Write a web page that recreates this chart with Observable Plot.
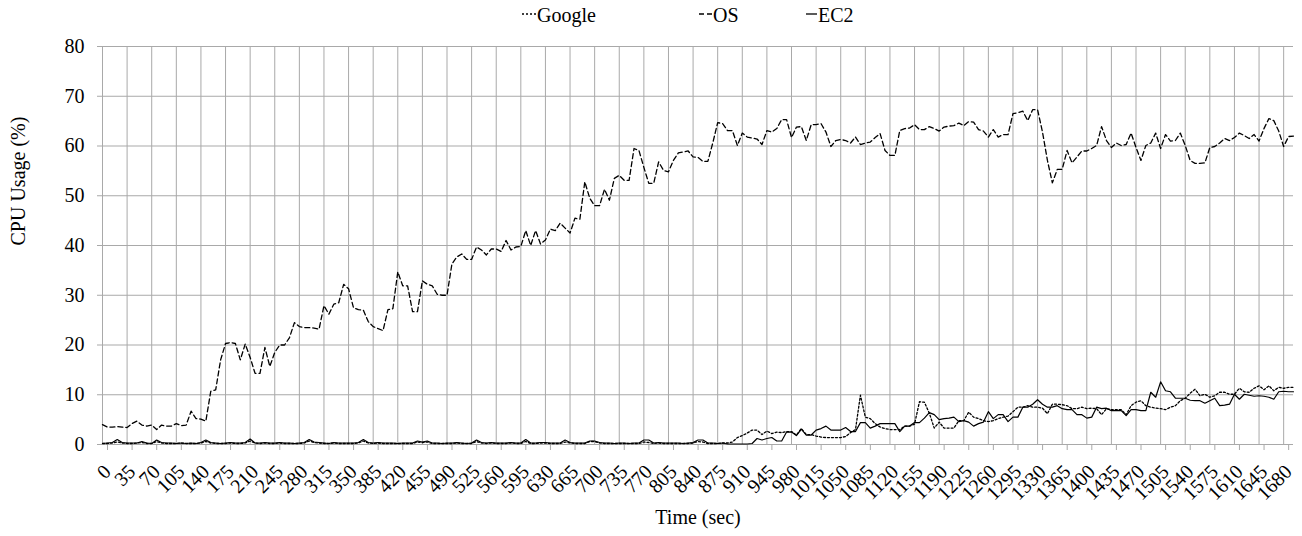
<!DOCTYPE html>
<html><head><meta charset="utf-8">
<script src="https://cdn.jsdelivr.net/npm/d3@7"></script>
<script src="https://cdn.jsdelivr.net/npm/@observablehq/plot@0.6"></script>
<style>
body{margin:0;background:#fff;font-family:"Liberation Serif","Times New Roman",Times,"Nimbus Roman","DejaVu Serif",serif;}
#legend{position:relative;height:30px;width:1302px;font-size:20px;color:#000;}
.item{position:absolute;top:2px;height:26px;line-height:26px;white-space:nowrap;}
.item svg{position:absolute;left:0;top:0;}
.item span{position:absolute;top:0;}
</style></head><body>
<div id="legend"></div>
<div id="chart"></div>
<script>
// sample step 7 s, 243 samples (0 … 1694 s)
const times = d3.range(0, 1695, 7);
const xTicks = [0,35,70,105,140,175,210,245,280,315,350,385,420,455,490,525,560,595,630,665,700,735,770,805,840,875,910,945,980,1015,1050,1085,1120,1155,1190,1225,1260,1295,1330,1365,1400,1435,1470,1505,1540,1575,1610,1645,1680];
const yTicks = [0,10,20,30,40,50,60,70,80];
const seriesNames = ["Google","OS","EC2"];

const google = [
0.2,0.2,0.3,0.5,0.3,0.2,0.2,0.3,0.4,0.2,
0.2,0.6,0.3,0.2,0.2,0.2,0.3,0.2,0.2,0.2,
0.3,0.6,0.3,0.2,0.2,0.2,0.3,0.2,0.2,0.3,
0.7,0.3,0.2,0.3,0.2,0.2,0.3,0.2,0.2,0.2,
0.2,0.3,0.7,0.4,0.3,0.2,0.2,0.3,0.2,0.2,
0.2,0.2,0.3,0.7,0.3,0.2,0.3,0.2,0.2,0.2,
0.2,0.2,0.2,0.2,0.5,0.4,0.5,0.2,0.2,0.2,
0.2,0.2,0.3,0.2,0.2,0.2,0.6,0.3,0.2,0.3,
0.2,0.2,0.2,0.3,0.2,0.2,0.6,0.2,0.2,0.3,
0.3,0.2,0.2,0.2,0.5,0.3,0.2,0.2,0.2,0.6,
0.6,0.3,0.2,0.2,0.2,0.2,0.2,0.2,0.2,0.2,
0.5,0.4,0.2,0.3,0.2,0.2,0.2,0.2,0.2,0.2,
0.3,0.6,0.5,0.2,0.2,0.2,0.3,0.3,
0.5,1.4,
1.8,2.3,2.9,2.9,2.0,2.7,2.2,2.5,2.4,2.6,
2.6,1.9,3.2,2.0,2.0,1.7,1.5,1.4,1.4,1.4,
1.4,1.6,2.4,3.0,9.9,5.5,5.2,4.2,3.5,3.2,
3.0,3.0,3.0,3.7,3.7,4.1,8.6,8.5,6.3,3.3,
4.5,3.3,3.3,3.3,4.8,4.8,6.5,5.5,5.2,4.8,
4.6,4.8,5.2,5.5,5.7,6.6,7.5,7.5,7.8,7.5,
7.5,7.3,6.2,8.1,8.1,8.0,7.8,7.2,7.2,7.5,
7.2,7.3,7.2,6.0,7.2,7.0,7.0,7.0,6.0,7.8,
8.5,8.8,7.8,7.5,7.3,7.2,7.0,7.5,7.8,8.8,
9.3,10.3,11.1,9.8,10.1,9.5,9.8,10.5,10.5,10.1,
10.1,11.3,10.6,10.5,11.3,11.8,11.0,11.8,10.8,11.5,
11.3,11.5,11.5];

const os = [
4.0,3.5,3.5,3.6,3.5,3.4,4.2,4.7,3.9,3.7,
3.9,3.0,3.9,3.7,3.7,4.2,3.8,3.9,6.7,5.2,
5.1,4.7,10.7,11.0,17.0,20.3,20.5,20.3,17.0,20.2,
17.5,14.3,14.3,19.5,15.7,18.5,20.0,20.0,21.5,24.5,
23.7,23.5,23.5,23.4,23.2,27.9,26.2,28.2,28.5,32.2,
31.3,27.5,27.1,27.0,24.7,23.7,23.3,22.9,27.1,27.3,
34.7,31.9,31.9,26.7,26.7,32.9,32.2,31.9,30.2,30.0,
30.0,36.3,37.7,38.3,37.2,37.2,39.7,39.1,38.1,39.3,
39.3,38.8,41.0,39.1,39.7,39.8,43.0,40.0,43.0,40.3,
41.1,43.3,43.0,44.5,43.5,42.5,45.5,45.3,52.8,49.5,
48.0,48.0,51.3,49.1,53.5,54.1,53.1,53.1,59.5,59.1,
55.7,52.5,52.5,56.8,55.1,54.8,57.1,58.6,58.8,59.0,
57.8,57.7,56.9,56.9,60.6,64.7,64.5,63.1,63.1,60.1,
62.6,61.8,61.6,61.4,60.3,63.1,62.8,63.5,65.3,65.3,
61.7,63.8,63.9,61.1,64.3,64.3,64.5,62.8,59.9,61.1,
61.3,61.1,60.6,61.8,60.3,60.6,60.8,61.7,62.5,59.1,
58.1,58.1,63.1,63.5,63.6,64.3,63.3,63.3,63.9,63.5,
63.0,63.8,64.0,64.1,64.6,64.1,64.9,64.8,63.3,63.0,
61.8,63.3,61.8,62.3,62.3,66.5,66.7,67.0,65.1,67.3,
67.3,62.8,57.1,52.6,55.3,55.3,59.1,56.6,57.8,59.0,
59.0,59.5,60.1,63.9,61.1,59.7,60.6,60.1,60.3,62.6,
59.7,57.1,60.1,60.6,62.6,59.5,62.3,61.0,61.1,62.6,
60.1,57.1,56.5,56.5,56.6,59.7,59.9,60.6,61.5,61.1,
61.7,62.6,62.1,61.5,62.3,61.0,63.5,65.5,65.1,63.0,
59.9,61.9,62.0];

const ec2 = [
0.2,0.3,0.4,1.0,0.4,0.3,0.3,0.3,0.6,0.3,
0.2,0.9,0.4,0.3,0.3,0.2,0.3,0.2,0.3,0.2,
0.4,0.9,0.4,0.3,0.2,0.3,0.4,0.3,0.3,0.4,
1.1,0.3,0.3,0.4,0.3,0.3,0.4,0.3,0.3,0.2,
0.3,0.4,1.0,0.5,0.4,0.3,0.2,0.4,0.3,0.3,
0.3,0.3,0.4,1.0,0.4,0.3,0.4,0.3,0.3,0.3,
0.2,0.3,0.3,0.3,0.7,0.5,0.7,0.3,0.3,0.2,
0.3,0.3,0.4,0.3,0.2,0.3,0.9,0.4,0.3,0.4,
0.3,0.3,0.3,0.4,0.3,0.3,1.0,0.3,0.3,0.4,
0.4,0.3,0.3,0.3,0.9,0.4,0.3,0.3,0.3,0.7,
0.7,0.4,0.3,0.3,0.2,0.3,0.3,0.2,0.3,0.3,
0.9,0.9,0.3,0.4,0.3,0.3,0.3,0.3,0.2,0.3,
0.4,0.9,0.9,0.3,0.3,0.2,0.3,0.1,0.1,0.1,
0.1,0.1,0.2,1.2,0.9,1.2,1.4,0.7,0.7,2.5,
2.5,1.8,3.1,1.9,1.9,2.9,3.2,3.7,2.9,2.9,
2.9,3.4,2.6,2.6,4.4,4.4,3.3,3.7,4.2,4.2,
4.2,4.2,2.6,3.7,3.7,4.4,4.4,5.3,6.4,6.0,
5.0,5.2,5.3,5.5,4.6,4.8,4.5,3.7,4.2,4.5,
6.6,5.2,6.0,6.0,4.6,5.5,5.5,7.5,7.5,8.1,
9.0,8.1,7.5,7.5,7.8,7.2,7.0,7.0,6.0,6.0,
5.3,5.5,7.5,7.2,7.3,6.8,6.8,6.8,5.8,7.0,
7.0,6.8,6.8,10.5,9.5,12.6,10.8,10.6,9.3,9.3,
9.3,8.9,8.8,8.8,8.3,8.8,9.3,7.8,7.9,8.1,
10.1,9.1,10.1,9.9,9.7,9.8,9.7,9.5,9.1,10.6,
10.7,10.6,10.6];

const grid = "#a9a9a9";
const font = '"Liberation Serif", "Times New Roman", Times, "Nimbus Roman", "DejaVu Serif", serif';
const styles = {
  Google: {strokeDasharray: "2,2"},
  OS: {strokeDasharray: "5,3"},
  EC2: {strokeDasharray: null}
};
const rows = (vals) => vals.map((v, i) => ({t: times[i], v}));

// legend
const legendPos = {Google: [522, 537, 14], OS: [699, 713, 13], EC2: [806, 818, 11]};
const legend = document.getElementById("legend");
for (const name of seriesNames) {
  const [sx, tx, w] = legendPos[name];
  const item = document.createElement("div");
  item.className = "item";
  item.style.left = sx + "px";
  const da = styles[name].strokeDasharray;
  item.innerHTML = `<svg width="${w}" height="26"><line x1="0" x2="${w}" y1="12" y2="12" stroke="black" stroke-width="1.3" ${da ? `stroke-dasharray="${da}"` : ""}/></svg><span style="left:${tx - sx}px">${name}</span>`;
  legend.appendChild(item);
}

const chart = Plot.plot({
  width: 1302, height: 506,
  marginTop: 16, marginBottom: 92, marginLeft: 102, marginRight: 9,
  x: {domain: [0, 1694]},
  y: {domain: [0, 80]},
  style: {fontFamily: font, fontSize: "20px", background: "white", color: "black"},
  marks: [
    Plot.ruleX(xTicks, {x: d => d, stroke: grid, strokeWidth: 1}),
    Plot.ruleY(yTicks, {y: d => d, stroke: grid, strokeWidth: 1}),
    Plot.axisY({ticks: yTicks, tickSize: 5, tickPadding: 13, tickFormat: d => String(d), stroke: grid, fill: "black", fontSize: 20, label: null}),
    Plot.axisX({ticks: xTicks, tickSize: 6, tickPadding: 18, tickRotate: -45, dx: 5, tickFormat: d => String(d), stroke: grid, fill: "black", fontSize: 20, label: null}),
    Plot.line(rows(google), {x: "t", y: "v", stroke: "black", strokeWidth: 1.3, ...styles.Google}),
    Plot.line(rows(ec2), {x: "t", y: "v", stroke: "black", strokeWidth: 1.2}),
    Plot.line(rows(os), {x: "t", y: "v", stroke: "black", strokeWidth: 1.3, ...styles.OS}),
    Plot.text(["CPU Usage (%)"], {text: d => d, frameAnchor: "left", rotate: -90, dx: -84, fontSize: 20, fill: "black"}),
    Plot.text(["Time (sec)"], {text: d => d, frameAnchor: "bottom", dy: 79, fontSize: 20, fill: "black"})
  ]
});
document.getElementById("chart").appendChild(chart);
</script></body></html>
